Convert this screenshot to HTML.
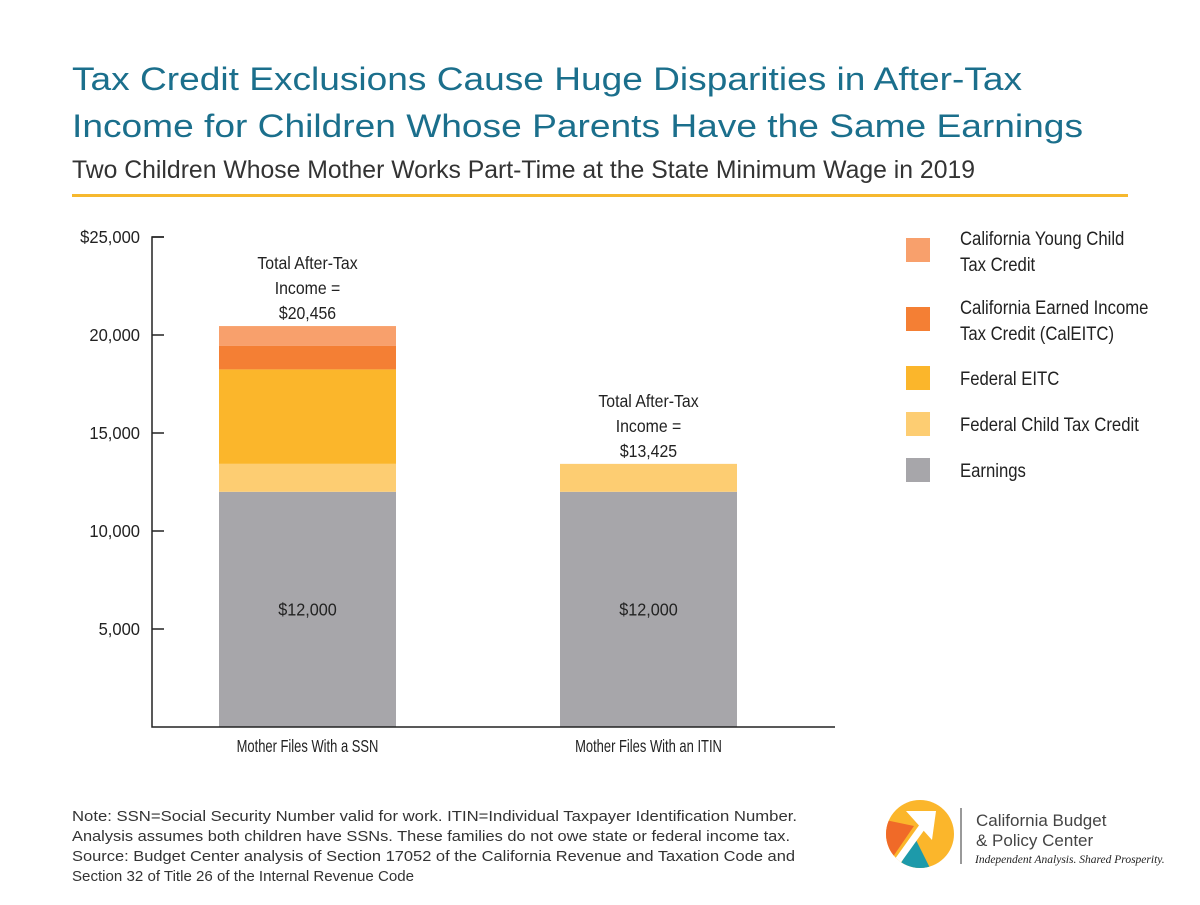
<!DOCTYPE html>
<html><head><meta charset="utf-8"><style>
body{margin:0;background:#fff;}
svg text{font-family:"Liberation Sans",sans-serif;}
</style></head><body>
<svg width="1200" height="900" viewBox="0 0 1200 900" xmlns="http://www.w3.org/2000/svg">
<rect width="1200" height="900" fill="#fff"/>
<text x="72" y="90" font-size="32" fill="#1b6f8c" textLength="950" lengthAdjust="spacingAndGlyphs">Tax Credit Exclusions Cause Huge Disparities in After-Tax</text>
<text x="72" y="137" font-size="32" fill="#1b6f8c" textLength="1011" lengthAdjust="spacingAndGlyphs">Income for Children Whose Parents Have the Same Earnings</text>
<text x="72" y="178" font-size="25" fill="#333" textLength="903" lengthAdjust="spacingAndGlyphs">Two Children Whose Mother Works Part-Time at the State Minimum Wage in 2019</text>
<rect x="72" y="194" width="1056" height="3" fill="#f6b82e"/>
<g id="plot"></g>
<g id="legend"></g>
<text font-size="15" fill="#333">
<tspan x="72" y="821" textLength="725" lengthAdjust="spacingAndGlyphs">Note: SSN=Social Security Number valid for work. ITIN=Individual Taxpayer Identification Number.</tspan>
<tspan x="72" y="841" textLength="718" lengthAdjust="spacingAndGlyphs">Analysis assumes both children have SSNs. These families do not owe state or federal income tax.</tspan>
<tspan x="72" y="861" textLength="723" lengthAdjust="spacingAndGlyphs">Source: Budget Center analysis of Section 17052 of the California Revenue and Taxation Code and</tspan>
<tspan x="72" y="881" textLength="342" lengthAdjust="spacingAndGlyphs">Section 32 of Title 26 of the Internal Revenue Code</tspan>
</text>
<g>
<clipPath id="lc"><circle cx="920" cy="834" r="34"/></clipPath>
<circle cx="920" cy="834" r="34" fill="#fbb62b"/>
<g clip-path="url(#lc)">
<polygon points="876,818 914,826 888,864" fill="#f06a28"/>
<polygon points="915,838 896,872 932,872" fill="#1d9aaa"/>
<line x1="897" y1="862" x2="925" y2="823" stroke="#fff" stroke-width="7"/>
<polygon points="906,811 936,811 932,840" fill="#fff"/>
</g>
<line x1="961" y1="808" x2="961" y2="864" stroke="#777" stroke-width="1.5"/>
<text x="976" y="826" font-size="17" fill="#444">California Budget</text>
<text x="976" y="846" font-size="17" fill="#444">&amp; Policy Center</text>
<text x="975" y="863" font-size="11.5" fill="#222" font-style="italic" style="font-family:'Liberation Serif',serif">Independent Analysis. Shared Prosperity.</text>
</g>
</svg>
<script>
const categories=["Mother Files With a SSN","Mother Files With an ITIN"];
const seriesNames=["Earnings","Federal Child Tax Credit","Federal EITC","California Earned Income Tax Credit (CalEITC)","California Young Child Tax Credit"];
const earnings=[12000,12000];
const fedCTC=[1425,1425];
const fedEITC=[4820,0];
const calEITC=[1211,0];
const yctc=[1000,0];
const totals=["$20,456","$13,425"];
const earningsLabels=["$12,000","$12,000"];
const yTicks=[5000,10000,15000,20000,25000];
const yTickLabels=["5,000","10,000","15,000","20,000","$25,000"];
const colors=["#a7a6aa","#fdcd72","#fbb62b","#f47f34","#f8a06c"];
const NS="http://www.w3.org/2000/svg";
const y0=727,yTop=237,yMax=25000;
const y=v=>y0-(v/yMax)*(y0-yTop);
const bx=[219,560],bw=177;
const plot=document.getElementById('plot');
function mk(t,a,p){const e=document.createElementNS(NS,t);for(const k in a)e.setAttribute(k,a[k]);(p||plot).appendChild(e);return e;}
function squeeze(e,s){const x=+e.getAttribute('x'),yy=+e.getAttribute('y');e.setAttribute('transform',`translate(${x} ${yy}) scale(${s} 1) translate(${-x} ${-yy})`);}
const series=[earnings,fedCTC,fedEITC,calEITC,yctc];
categories.forEach((c,i)=>{
 let acc=0;
 series.forEach((s,j)=>{
  if(!s[i])return;
  const r=mk('rect',{x:bx[i],y:y(acc+s[i]),width:bw,height:y(acc)-y(acc+s[i]),fill:colors[j]});
  
  
  acc+=s[i];
 });
 const el=mk('text',{x:bx[i]+bw/2,y:y(earnings[i]/2)+6,'font-size':18,fill:'#222','text-anchor':'middle'});
 el.textContent=earningsLabels[i];
 
 
 squeeze(el,0.9);
 const tt=y(acc);
 ["Total After-Tax","Income =",totals[i]].forEach((s,k)=>{
  const t=mk('text',{x:bx[i]+bw/2,y:tt-57+k*25,'font-size':18,fill:'#222','text-anchor':'middle'});
  t.textContent=s;
  
  
  squeeze(t,0.88);
 });
 const cl=mk('text',{x:bx[i]+bw/2,y:752,'font-size':18,fill:'#222','text-anchor':'middle'});
 cl.textContent=c;
 
 
 squeeze(cl,0.72);
});
const ax=mk('path',{d:`M164 ${yTop} H152 V${y0} H835`,stroke:'#222','stroke-width':1.5,fill:'none'});


yTicks.forEach((v,i)=>{
 mk('line',{x1:152,x2:164,y1:y(v),y2:y(v),stroke:'#222','stroke-width':1.5});
 const t=mk('text',{x:140,y:y(v)+6,'font-size':18,fill:'#222','text-anchor':'end'});
 t.textContent=yTickLabels[i];
 
 
 squeeze(t,0.92);
});
const leg=document.getElementById('legend');
const legItems=[[4,["California Young Child","Tax Credit"],238],[3,["California Earned Income","Tax Credit (CalEITC)"],307],[2,["Federal EITC"],366],[1,["Federal Child Tax Credit"],412],[0,["Earnings"],458]];
legItems.forEach(([ci,lines,ly])=>{
 const sw=mk('rect',{x:906,y:ly,width:24,height:24,fill:colors[ci]},leg);
 
 
 lines.forEach((s,k)=>{
  const base=lines.length>1?ly+7+k*26:ly+19;
  const t=mk('text',{x:960,y:base,'font-size':19,fill:'#222'},leg);
  t.textContent=s;
  
  
  squeeze(t,0.88);
 });
});
</script>
</body></html>
